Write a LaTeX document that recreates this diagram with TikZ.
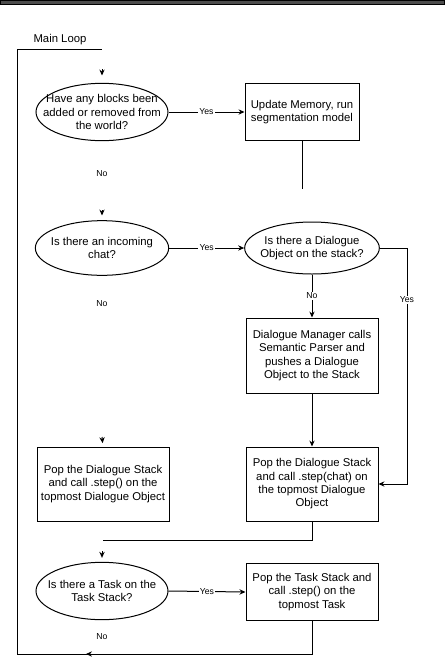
\documentclass[tikz,border=0pt]{standalone}
\usepackage{fontspec}
\setmainfont{Liberation Sans}
\usetikzlibrary{arrows.meta, positioning, shapes.geometric}

\begin{document}
\begin{tikzpicture}[x=0.75pt,y=0.75pt,yscale=-1,xscale=1,
  line width=0.75pt,
  process/.style={draw, rectangle, align=center, minimum width=99pt, minimum height=42.75pt, inner sep=2pt, font=\fontsize{8.5}{10}\selectfont},
  decision/.style={draw, ellipse, minimum width=99pt, minimum height=43pt, inner sep=0pt},
  qtext/.style={align=center, inner sep=0pt, font=\fontsize{8.5}{10}\selectfont},
  branch/.style={fill=white, inner sep=1pt, font=\fontsize{6.5}{7}\selectfont},
  arr/.style={-{Stealth[length=4.5pt,width=4pt]}}]
\useasboundingbox (0,0) rectangle (444,658);

%Top bar
\draw [fill=black!70] (0,0) rectangle (444,4) ;

% Text Node
\node [qtext] (mainloop) at (60,40) {Main Loop};

%Shape: Ellipse
\node [decision, label={[qtext]center:{Have any blocks been\\added or removed from\\the world?}}] (blocksq) at (102,112) {};
%Shape: Rectangle
\node [process, minimum width=85.5pt] (memupd) at (302,112) {Update Memory, run\\segmentation model};
%Shape: Ellipse
\node [decision, minimum height=41pt, minimum width=100pt, label={[qtext]center:{Is there an incoming\\chat?}}] (chatq) at (102,248) {};
%Shape: Ellipse
\node [decision, minimum height=39pt, minimum width=101pt, label={[qtext]center:{Is there a Dialogue\\Object on the stack?}}] (dlgq) at (312,248) {};
%Shape: Rectangle
\node [process, minimum height=56.25pt] (dlgmgr) at (312,355.5) {Dialogue Manager calls\\Semantic Parser and\\pushes a Dialogue\\Object to the Stack};
%Shape: Rectangle
\node [process, minimum height=55.5pt] (popdlg) at (103,484) {Pop the Dialogue Stack\\and call .step() on the\\topmost Dialogue Object};
%Shape: Rectangle
\node [process, minimum height=55.5pt] (stepchat) at (312,484) {Pop the Dialogue Stack\\and call .step(chat) on\\the topmost Dialogue\\Object};
%Shape: Ellipse
\node [decision, label={[qtext]center:{Is there a Task on the\\Task Stack?}}] (taskq) at (102,591) {};
%Shape: Rectangle
\node [process] (poptask) at (312,592) {Pop the Task Stack and\\call .step() on the\\topmost Task};

% Text Node
\node [branch] (noblocks) at (102,174) {No};
% Text Node
\node [branch] (nochat) at (102,304) {No};
% Text Node
\node [branch] (notask) at (102,637) {No};

%Coordinates
\coordinate (memend) at (302,189);
\coordinate (yesturn) at (407,484);
\coordinate (joinl) at (103,540);
\coordinate (loopbl) at (17,654);
\coordinate (looptl) at (17,49);
\coordinate (looptr) at (102,49);
\coordinate (inblocks) at (102,69);
\coordinate (inchat) at (102,210);
\coordinate (inpop) at (102,437);
\coordinate (intask) at (102,551);
\coordinate (retstart) at (92,654);
\coordinate (retend) at (86,654);

%Straight Lines
\draw [arr] (blocksq.east) -- node [branch] (yesblocks) {Yes} (memupd.west) ;
\draw (memupd.south) -- (memend) ;
%Straight Lines
\draw [arr] (chatq.east) -- node [branch] (yeschat) {Yes} (dlgq.west) ;
\draw [arr] (dlgq.south) -- node [branch] (nodlg) {No} (dlgmgr.north) ;
\draw [arr] (dlgq.east) -| (yesturn) -- (stepchat.east) ;
\node [branch] (yesdlg) at (407,300) {Yes};
\draw [arr] (dlgmgr.south) -- (stepchat.north) ;
\draw (stepchat.south) |- (joinl) ;
%Straight Lines
\draw [arr] (taskq.east) -- node [branch] (yestask) {Yes} (poptask.west) ;
\draw (poptask.south) |- (loopbl) -- (looptl) -- (looptr) ;
\draw [arr] (retstart) -- (retend) ;

%Arrow heads
\draw [arr, shorten >=5.5pt] (inblocks) -- (blocksq.north) ;
\draw [arr, shorten >=3.5pt] (inchat) -- (chatq.north) ;
\draw [arr, shorten >=2.5pt] (inpop) -- (popdlg.north) ;
\draw [arr, shorten >=3pt] (intask) -- (taskq.north) ;

\end{tikzpicture}
\end{document}
